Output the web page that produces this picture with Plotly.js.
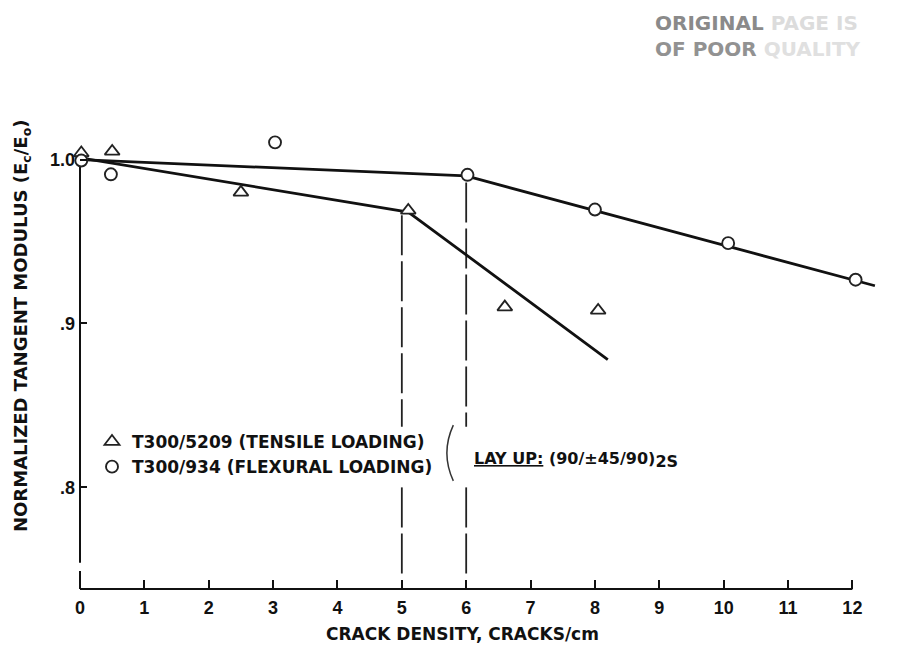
<!DOCTYPE html>
<html>
<head>
<meta charset="utf-8">
<script src="https://cdn.plot.ly/plotly-3.0.1.min.js"></script>
<style>html,body{margin:0;padding:0;background:#fff;}#chart{width:919px;height:650px;}</style>
</head>
<body>
<div id="chart"></div>
<script>
// ---- data ----
const tensileX = [0.02, 0.5, 2.5, 5.1, 6.6, 8.05];
const tensileY = [1.004, 1.005, 0.980, 0.969, 0.910, 0.908];
const flexX = [0.02, 0.48, 3.03, 6.02, 8.0, 10.07, 12.05];
const flexY = [0.9994, 0.991, 1.0105, 0.9907, 0.9695, 0.949, 0.9267];
const tensFitX = [0, 5.1, 8.2];
const tensFitY = [1.001, 0.968, 0.878];
const flexFitX = [0, 6.0, 12.35];
const flexFitY = [1.0, 0.990, 0.923];
const transitionX = [5.0, 6.0];
const transitionTop = [0.966, 0.986];
const xTicks = [0,1,2,3,4,5,6,7,8,9,10,11,12];
const yTicks = [0.8, 0.9, 1.0];
const yTickText = ['.8', '.9', '1.0'];
const seriesNames = ['T300/5209 (TENSILE LOADING)', 'T300/934 (FLEXURAL LOADING)'];
const xRange = [0, 12.6];
const yRange = [0.738, 1.04];
const axisBreak = [0.749, 0.754];
const dashBottom = 0.746;
const dashGap = [0.800, 0.837];

const BOLD = 'DejaVu Sans';
const NUM = 'Liberation Sans';

const traces = [
  {x: tensFitX, y: tensFitY, mode: 'lines', line: {color: '#111', width: 2.8}, showlegend: false, hoverinfo: 'skip'},
  {x: flexFitX, y: flexFitY, mode: 'lines', line: {color: '#111', width: 2.8}, showlegend: false, hoverinfo: 'skip'},
  {x: tensileX, y: tensileY, mode: 'markers', name: seriesNames[0], cliponaxis: false,
   marker: {symbol: 'triangle-up', size: 13, color: '#fff', line: {color: '#222', width: 1.8}}},
  {x: flexX, y: flexY, mode: 'markers', name: seriesNames[1], cliponaxis: false,
   marker: {symbol: 'circle', size: 12, color: '#fff', line: {color: '#222', width: 1.9}}}
];

const shapes = [
  {type: 'line', xref: 'x', yref: 'paper', x0: xTicks[0], x1: xTicks[xTicks.length-1], y0: 0, y1: 0, line: {color: '#111', width: 2}, layer: 'below'},
  {type: 'line', xref: 'paper', yref: 'y', x0: 0, x1: 0, y0: yRange[0], y1: axisBreak[0], line: {color: '#111', width: 2}, layer: 'below'},
  {type: 'line', xref: 'paper', yref: 'y', x0: 0, x1: 0, y0: axisBreak[1], y1: yTicks[yTicks.length-1], line: {color: '#111', width: 2}, layer: 'below'}
];
transitionX.forEach((tx, i) => {
  const dashStyle = {color: '#222', width: 1.8, dash: '40px,6px'};
  shapes.push({type: 'line', xref: 'x', yref: 'y', x0: tx, x1: tx, y0: transitionTop[i], y1: dashGap[1], line: dashStyle, layer: 'below'});
  shapes.push({type: 'line', xref: 'x', yref: 'y', x0: tx, x1: tx, y0: dashGap[0], y1: dashBottom, line: dashStyle, layer: 'below'});
});
// bracket between legend and lay-up note
shapes.push({type: 'path', xref: 'x', yref: 'y', path: 'M 5.80 0.838 Q 5.60 0.821 5.80 0.804',
  line: {color: '#333', width: 1.5}, layer: 'below'});

const annotations = [
  {xref: 'paper', yref: 'paper', x: (462-80)/811, y: -(634-589)/495, xanchor: 'center', yanchor: 'middle',
   text: 'CRACK DENSITY, CRACKS/cm', showarrow: false, font: {family: BOLD, size: 17, color: '#111', weight: 'bold'}},
  {xref: 'paper', yref: 'paper', x: (22-80)/811, y: (589-326)/495, xanchor: 'center', yanchor: 'middle', textangle: -90,
   text: 'NORMALIZED TANGENT MODULUS (E<sub>c</sub>/E<sub>o</sub>)', showarrow: false, font: {family: BOLD, size: 18, color: '#111', weight: 'bold'}},
  {xref: 'x', yref: 'y', x: 6.09, y: 0.8165, xanchor: 'left', yanchor: 'middle',
   text: '<u>LAY UP:</u> (90/±45/90)<sub><span style="font-size:16px">2S</span></sub>', showarrow: false,
   font: {family: BOLD, size: 16, color: '#111', weight: 'bold'}},
  {xref: 'paper', yref: 'paper', x: (653-80)/811, y: (589-36)/495, xanchor: 'left', yanchor: 'middle', align: 'left',
   text: '<span style="color:#8a8a8a">ORIGINAL</span> <span style="color:#dcdcdc">PAGE IS</span><br>' +
         '<span style="color:#929292">OF POOR</span> <span style="color:#e0e0e0">QUALITY</span>', showarrow: false,
   font: {family: BOLD, size: 20, color: '#999', weight: 'bold'}}
];

const layout = {
  width: 919, height: 650,
  margin: {l: 80, r: 28, t: 94, b: 61, pad: 0},
  paper_bgcolor: '#fff', plot_bgcolor: 'rgba(0,0,0,0)',
  showlegend: true,
  legend: {x: (92-80)/811, y: (589-424)/495, xanchor: 'left', yanchor: 'top', bgcolor: 'rgba(255,255,255,0)', borderwidth: 0,
    font: {family: BOLD, size: 17, color: '#111', weight: 'bold'}, tracegroupgap: 0},
  xaxis: {range: xRange, tickvals: xTicks, ticktext: xTicks.map(String), ticks: 'inside', ticklen: 9, tickwidth: 2, tickcolor: '#111',
    showline: false, showgrid: false, zeroline: false, automargin: false, ticklabelstandoff: 6,
    tickfont: {family: NUM, size: 18, color: '#111', weight: 'bold'}},
  yaxis: {range: yRange, tickvals: yTicks, ticktext: yTickText, ticks: 'inside', ticklen: 7, tickwidth: 2, tickcolor: '#111',
    showline: false, showgrid: false, zeroline: false, automargin: false, ticklabelstandoff: 4,
    tickfont: {family: NUM, size: 18, color: '#111', weight: 'bold'}},
  shapes: shapes,
  annotations: annotations
};

Plotly.newPlot('chart', traces, layout, {staticPlot: true, displayModeBar: false});
</script>
</body>
</html>
